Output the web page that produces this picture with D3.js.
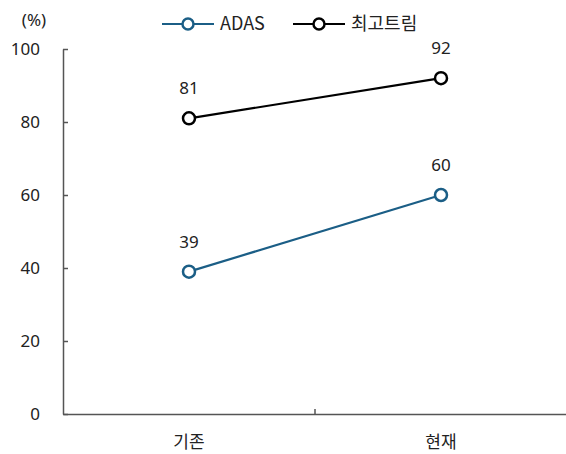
<!DOCTYPE html>
<html>
<head>
<meta charset="utf-8">
<script src="https://cdn.jsdelivr.net/npm/d3@7"></script>
<style>
  body { margin: 0; background: #fff; }
  text { font-family: "Noto Sans", "Noto Sans CJK KR", sans-serif; }
</style>
</head>
<body>
<div class="chart"></div>
<script>
const categories = ["기존", "현재"]
const seriesNames = ["ADAS", "최고트림"]
const adasValues = [39, 60]
const topTrimValues = [81, 92]
const yTicks = [0, 20, 40, 60, 80, 100]
const colors = ["#1b5e86", "#000000"]

function drawChart() {
  const dimensions = {
    width: 566,
    height: 454,
    margin: { top: 49, right: 0, bottom: 40, left: 63 },
  }
  dimensions.boundedWidth = dimensions.width
    - dimensions.margin.left
    - dimensions.margin.right
  dimensions.boundedHeight = dimensions.height
    - dimensions.margin.top
    - dimensions.margin.bottom

  const wrapper = d3.select(".chart")
    .append("svg")
    .attr("width", dimensions.width)
    .attr("height", dimensions.height)

  const bounds = wrapper.append("g")
    .attr("transform", `translate(${dimensions.margin.left}, ${dimensions.margin.top})`)

  const xScale = d3.scaleBand()
    .domain(categories)
    .range([0, 504])

  const yScale = d3.scaleLinear()
    .domain([0, 100])
    .range([dimensions.boundedHeight, 0])

  // y axis, ticks inside
  const yAxis = bounds.append("g")
    .call(d3.axisRight(yScale).tickValues(yTicks).tickSize(5).tickSizeOuter(0).tickFormat(""))
  yAxis.select(".domain").attr("stroke", "#555").attr("stroke-width", 1.5)
  yAxis.selectAll(".tick line").attr("stroke", "#555").attr("stroke-width", 1.5)
  yAxis.selectAll(".tick text").remove()

  bounds.append("g").selectAll("text")
    .data(yTicks)
    .enter().append("text")
    .attr("x", -23)
    .attr("y", d => yScale(d))
    .attr("dy", "0.35em")
    .attr("text-anchor", "end")
    .attr("fill", "#222")
    .style("font-size", "17px")
    .text(d => d)

  // x axis
  const xAxis = bounds.append("g")
    .attr("transform", `translate(0, ${dimensions.boundedHeight})`)
    .call(d3.axisTop(xScale).tickSize(0).tickSizeOuter(0).tickFormat(""))
  xAxis.select(".domain").attr("stroke", "#555").attr("stroke-width", 1.5)
  xAxis.append("line")
    .attr("x1", xScale.bandwidth()).attr("x2", xScale.bandwidth())
    .attr("y1", 0).attr("y2", -5)
    .attr("stroke", "#555").attr("stroke-width", 1.5)

  bounds.append("g").selectAll("text")
    .data(categories)
    .enter().append("text")
    .attr("x", d => xScale(d) + xScale.bandwidth() / 2)
    .attr("y", dimensions.boundedHeight + 34)
    .attr("text-anchor", "middle")
    .attr("fill", "#222")
    .style("font-family", "'Noto Sans CJK KR', sans-serif")
    .style("font-size", "17px")
    .text(d => d)

  // (%)
  wrapper.append("text")
    .attr("x", 34)
    .attr("y", 26)
    .attr("text-anchor", "middle")
    .attr("fill", "#222")
    .style("font-size", "17px")
    .text("(%)")

  const cx = d => xScale(d) + xScale.bandwidth() / 2
  const series = [adasValues, topTrimValues]
  const lineGenerator = d3.line()
    .x((d, i) => cx(categories[i]))
    .y(d => yScale(d))

  series.forEach((vals, s) => {
    bounds.append("path")
      .attr("d", lineGenerator(vals))
      .attr("fill", "none")
      .attr("stroke", colors[s])
      .attr("stroke-width", 2.2)

    bounds.append("g").selectAll("circle")
      .data(vals)
      .enter().append("circle")
      .attr("cx", (d, i) => cx(categories[i]))
      .attr("cy", d => yScale(d))
      .attr("r", 6)
      .attr("fill", "#fff")
      .attr("stroke", colors[s])
      .attr("stroke-width", 2.5)

    bounds.append("g").selectAll("text")
      .data(vals)
      .enter().append("text")
      .attr("x", (d, i) => cx(categories[i]))
      .attr("y", d => yScale(d) - 30)
      .attr("dy", "0.35em")
      .attr("text-anchor", "middle")
      .attr("fill", "#222")
      .style("font-size", "17px")
      .text(d => d)
  })

  // legend
  const legendX = [162, 293]
  const legend = wrapper.append("g")
  seriesNames.forEach((name, s) => {
    const g = legend.append("g").attr("transform", `translate(${legendX[s]}, 24)`)
    g.append("line")
      .attr("x1", 0).attr("x2", 52)
      .attr("stroke", colors[s]).attr("stroke-width", 2.2)
    g.append("circle")
      .attr("cx", 26).attr("r", 5.5)
      .attr("fill", "#fff").attr("stroke", colors[s]).attr("stroke-width", 2.5)
    g.append("text")
      .attr("x", 58)
      .attr("dy", "0.35em")
      .attr("fill", "#222")
      .style("font-family", "'Noto Sans CJK KR', sans-serif")
      .style("font-size", "18px")
      .text(name)
  })
}

drawChart()
</script>
</body>
</html>
